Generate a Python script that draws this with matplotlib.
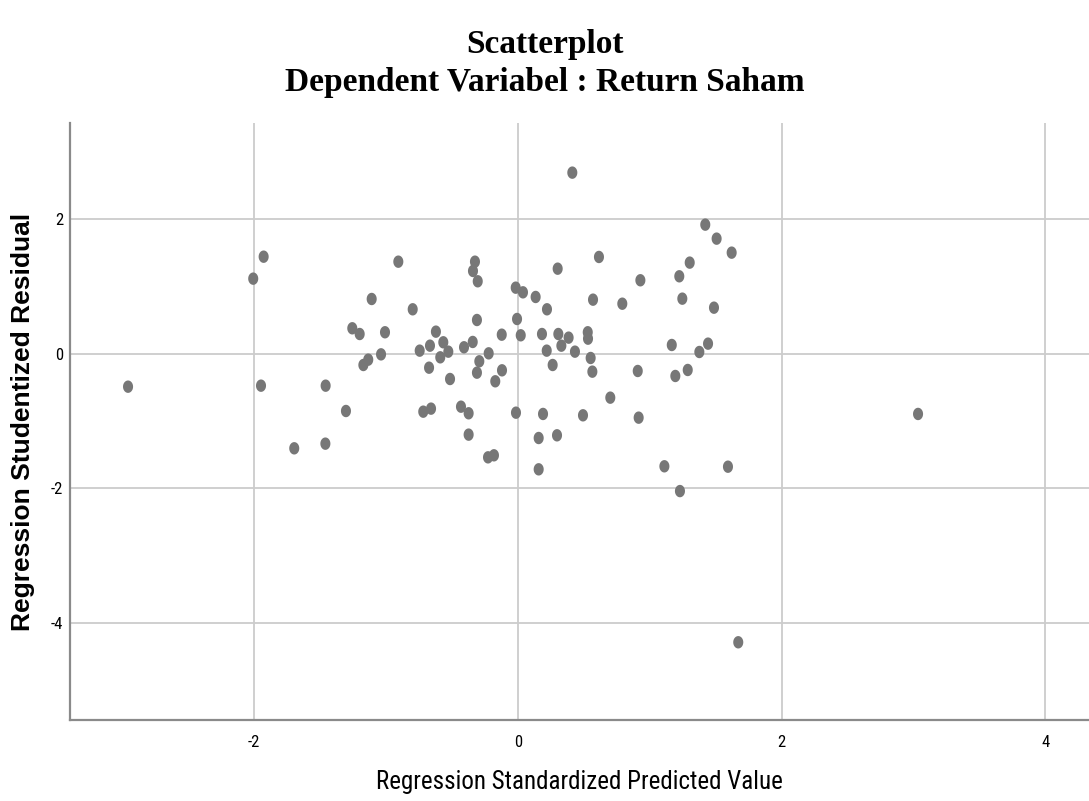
import matplotlib
matplotlib.use("Agg")
import matplotlib.pyplot as plt
import numpy as np

# Regression standardized predicted value (x) and studentized residual (y)
pred = [-2.954, -2.005, -1.926, -1.946, -1.456, -1.302, -1.694, -1.458,
        -1.107, -1.254, -1.198, -1.006, -1.036, -1.170, -1.133, -0.905,
        -0.796, -0.743, -0.665, -0.620, -0.564, -0.526, -0.587, -0.672,
        -0.513, -0.716, -0.657, -0.430, -0.372, -0.372, -0.225, -0.180,
        0.159, 0.159, -0.013, 0.192, -0.324, -0.339, -0.303, -0.309,
        -0.407, -0.341, -0.220, -0.291, -0.309, -0.119, -0.170, -0.121,
        -0.015, 0.040, 0.136, 0.222, -0.005, 0.023, 0.184, 0.220,
        0.414, 0.308, 0.386, 0.331, 0.434, 0.531, 0.533, 0.553,
        0.566, 0.265, 0.303, 0.616, 0.571, 0.793, 0.930, 0.910,
        0.702, 0.495, 0.917, 0.298, 1.112, 1.594, 1.230, 1.422,
        1.508, 1.622, 1.304, 1.225, 1.248, 1.488, 1.168, 1.443,
        1.377, 1.289, 1.195, 3.035, 1.672]
resid = [-0.490, 1.114, 1.440, -0.475, -0.475, -0.851, -1.405, -1.336,
         0.812, 0.377, 0.292, 0.318, -0.010, -0.168, -0.089, 1.366,
         0.659, 0.045, 0.119, 0.327, 0.169, 0.030, -0.054, -0.208,
         -0.376, -0.861, -0.816, -0.787, -0.885, -1.202, -1.539, -1.509,
         -1.252, -1.717, -0.876, -0.895, 1.366, 1.228, 1.075, 0.500,
         0.095, 0.174, 0.005, -0.113, -0.282, -0.247, -0.410, 0.282,
         0.980, 0.911, 0.842, 0.659, 0.515, 0.273, 0.292, 0.045,
         2.688, 0.292, 0.238, 0.119, 0.030, 0.318, 0.223, -0.064,
         -0.267, -0.168, 1.262, 1.436, 0.802, 0.742, 1.090, -0.257,
         -0.653, -0.915, -0.950, -1.212, -1.672, -1.678, -2.040, 1.916,
         1.708, 1.500, 1.352, 1.149, 0.817, 0.683, 0.129, 0.149,
         0.025, -0.242, -0.331, -0.895, -4.285]

xticks = [-2, 0, 2, 4]
yticks = [-4, -2, 0, 2]

narrow = ['Roboto Condensed', 'DejaVu Sans']

fig = plt.figure(figsize=(10.89, 8.01), dpi=100)
ax = fig.add_axes([70 / 1089, 81 / 801, 1 - 70 / 1089, (720 - 123) / 801])

# slightly tall elliptical dot like the SPSS output
t = np.linspace(0, 2 * np.pi, 40)
dot = np.column_stack([0.81 * np.cos(t), np.sin(t)])
ax.scatter(pred, resid, s=80, marker=dot, color='#777777', edgecolors='none', zorder=3)

ax.set_xlim(-3.394, 4.331)
ax.set_ylim(-5.439, 3.425)
ax.set_xticks(xticks)
ax.set_yticks(yticks)
ax.set_xticklabels([str(v) for v in xticks], family=narrow, fontsize=12)
ax.set_yticklabels([str(v) for v in yticks], family=narrow, fontsize=12)
ax.tick_params(axis='x', length=0, pad=11)
ax.tick_params(axis='y', length=0, pad=5)
ax.grid(True, color='#cccccc', linewidth=1.3)
ax.set_axisbelow(True)

for side in ['top', 'right']:
    ax.spines[side].set_visible(False)
for side in ['left', 'bottom']:
    ax.spines[side].set_color('#8a8a8a')
    ax.spines[side].set_linewidth(1.6)

ax.set_xlabel('Regression Standardized Predicted Value', family=narrow, fontsize=18, labelpad=14)
ax.set_ylabel('Regression Studentized Residual', family='Liberation Sans', fontweight='bold',
              fontsize=19, labelpad=11)

fig.text(0.5, 1 - 44 / 801, 'Scatterplot', ha='center', va='center',
         family='Liberation Serif', fontweight='bold', fontsize=24)
fig.text(0.5, 1 - 82 / 801, 'Dependent Variabel : Return Saham', ha='center', va='center',
         family='Liberation Serif', fontweight='bold', fontsize=24)

fig.savefig('out.png', dpi=100)
